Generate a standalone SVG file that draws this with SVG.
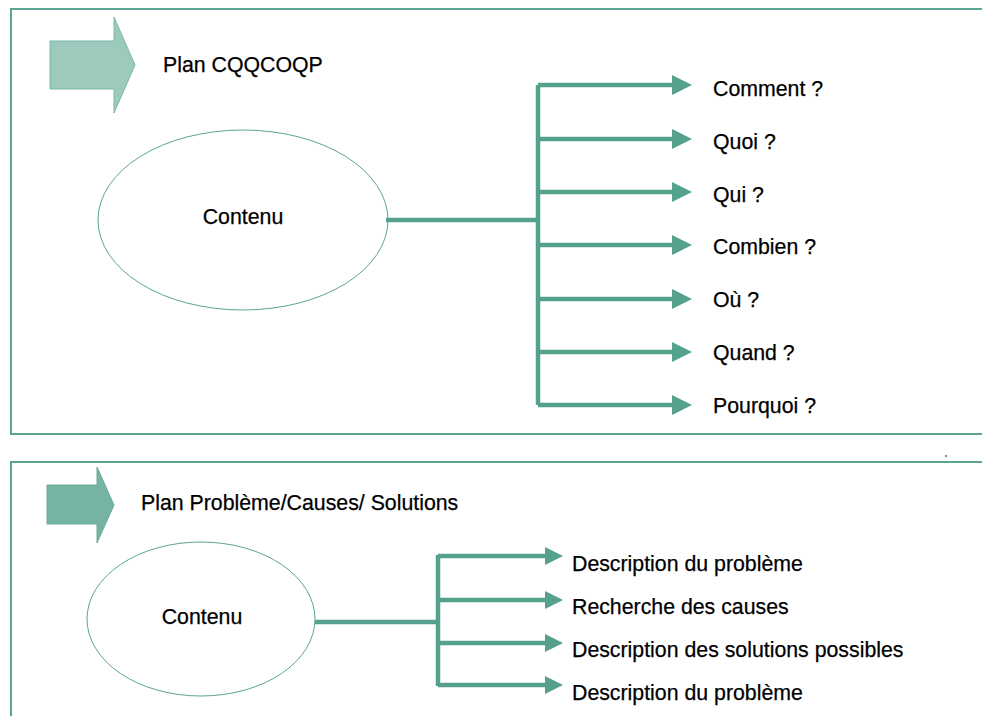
<svg xmlns="http://www.w3.org/2000/svg" width="982" height="716" viewBox="0 0 982 716">
<style>
.frame{fill:none;stroke:#5aa593;stroke-width:2}
.ell{fill:#fff;stroke:#5aa593;stroke-width:1}
.t{font-family:"Liberation Sans",Arial,sans-serif;font-size:21.3px;fill:#000;stroke:#000;stroke-width:0.25}
.ln{fill:none;stroke:#56a08e;stroke-width:4.5}
.hd{fill:#56a08e}
</style>
<rect width="982" height="716" fill="#fff"/>
<g id="frame1"><path class="frame" d="M984,9 H11 V434 H984"/></g>
<g id="frame2"><path class="frame" d="M984,462 H11 V720"/></g>
<rect x="945" y="455" width="2" height="2" fill="#56a08e"/>
<g id="title1">
<polygon points="50,41 114,41 114,17 135,65 114,113 114,89 50,89" fill="#9ccbbd" stroke="#7ab8a7" stroke-width="1"/>
<text class="t" x="163" y="72">Plan CQQCOQP</text>
</g>
<g id="title2">
<polygon points="47,485 97,485 97,467 114,505 97,543 97,524 47,524" fill="#76b3a3" stroke="#6aab9a" stroke-width="1"/>
<text class="t" x="141" y="510">Plan Problème/Causes/ Solutions</text>
</g>
<g id="contenu1">
<ellipse class="ell" cx="243" cy="220" rx="145" ry="90"/>
<text class="t" x="243" y="224" text-anchor="middle">Contenu</text>
</g>
<g id="contenu2">
<ellipse class="ell" cx="201" cy="619" rx="114" ry="77"/>
<text class="t" x="202" y="624" text-anchor="middle">Contenu</text>
</g>
<g id="connectors">
<path class="ln" d="M386,220 H538 M538,85 V405 M538,85 H674 M538,139 H674 M538,192 H674 M538,245 H674 M538,299 H674 M538,352 H674 M538,405 H674"/>
<polygon class="hd" points="672,75 692,85 672,95"/>
<polygon class="hd" points="672,129 692,139 672,149"/>
<polygon class="hd" points="672,182 692,192 672,202"/>
<polygon class="hd" points="672,235 692,245 672,255"/>
<polygon class="hd" points="672,289 692,299 672,309"/>
<polygon class="hd" points="672,342 692,352 672,362"/>
<polygon class="hd" points="672,395 692,405 672,415"/>
<path class="ln" d="M315,622 H438 M438,555 V686 M438,556 H547 M438,600 H547 M438,643 H547 M438,685 H547"/>
<polygon class="hd" points="545,547 563,556 545,565"/>
<polygon class="hd" points="545,591 563,600 545,609"/>
<polygon class="hd" points="545,634 563,643 545,652"/>
<polygon class="hd" points="545,676 563,685 545,694"/>
</g>
<g id="labels1">
<text class="t" x="713" y="96">Comment ?</text>
<text class="t" x="713" y="149">Quoi ?</text>
<text class="t" x="713" y="202">Qui ?</text>
<text class="t" x="713" y="254">Combien ?</text>
<text class="t" x="713" y="307">Où ?</text>
<text class="t" x="713" y="360">Quand ?</text>
<text class="t" x="713" y="413">Pourquoi ?</text>
</g>
<g id="labels2">
<text class="t" x="572" y="571">Description du problème</text>
<text class="t" x="572" y="614">Recherche des causes</text>
<text class="t" x="572" y="657">Description des solutions possibles</text>
<text class="t" x="572" y="700">Description du problème</text>
</g>
</svg>
